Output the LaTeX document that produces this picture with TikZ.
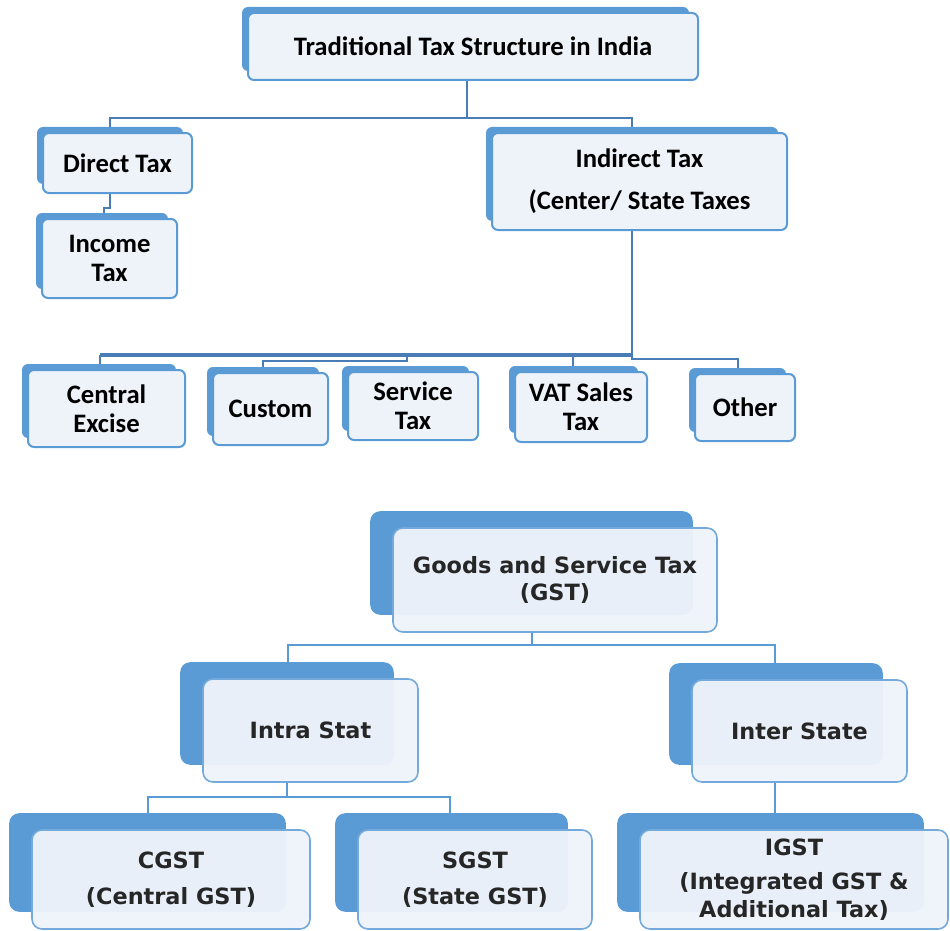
\documentclass[tikz,border=0pt]{standalone}
\usepackage{fontspec}
\setmainfont{Carlito}
\newfontfamily\gstfont{DejaVu Sans}
\usetikzlibrary{backgrounds}
\definecolor{boxblue}{HTML}{5B9BD5}
\definecolor{boxfill}{HTML}{EEF3FA}
\definecolor{linkblue}{HTML}{4A7DB5}

\begin{document}
\begin{tikzpicture}[x=0.75pt,y=0.75pt,yscale=-1,xscale=1,
    boxw/.style={minimum width=#1*0.75pt},
    boxh/.style={minimum height=#1*0.75pt},
    oldbox/.style={draw=boxblue, line width=1.5pt, fill=boxfill, rounded corners=4.5pt, inner sep=0pt, align=center, font=\fontsize{20}{21.5}\selectfont\bfseries},
    oldback/.style={fill=boxblue, rounded corners=4.5pt},
    gstbox/.style={draw=boxblue!85, line width=1.2pt, fill=boxfill, fill opacity=0.96, text opacity=1, rounded corners=7.5pt, inner sep=0pt, align=center, text=black!85, font=\gstfont\fontsize{16.8}{20.5}\selectfont\bfseries},
    gstback/.style={fill=boxblue, rounded corners=7.5pt},
    oldlink/.style={draw=linkblue, line width=1.5pt},
    gstlink/.style={draw=boxblue, line width=1.5pt}]
        \useasboundingbox (0,0) rectangle (950,931);

        % traditional structure
        \node[oldbox, boxw=450, boxh=67] (trad) at (473,46.5) {Traditional Tax Structure in India};
        \node[oldbox, boxw=149, boxh=60] (direct) at (117.5,163) {Direct Tax};
        \node[oldbox, boxw=135, boxh=79] (income) at (109.5,258.5) {Income\\Tax};
        \node[oldbox, boxw=295, boxh=97] (indirect) at (639.5,181.5) {Indirect Tax\\[10pt](Center/ State Taxes};
        \node[oldbox, boxw=157, boxh=77] (central) at (106.5,408.5) {Central\\Excise};
        \node[oldbox, boxw=115, boxh=72] (custom) at (270.5,409) {Custom};
        \node[oldbox, boxw=130, boxh=68] (service) at (413,406) {Service\\Tax};
        \node[oldbox, boxw=132, boxh=70] (vat) at (581,407) {VAT Sales\\Tax};
        \node[oldbox, boxw=100, boxh=67] (other) at (745,407.5) {Other};

        % gst structure
        \node[gstbox, boxw=324, boxh=104] (gst) at (555,580) {Goods and Service Tax\\(GST)};
        \node[gstbox, boxw=215, boxh=103] (intra) at (310.5,730.5) {Intra Stat};
        \node[gstbox, boxw=215, boxh=102] (inter) at (799.5,731) {Inter State};
        \node[gstbox, boxw=278, boxh=99] (cgst) at (171,879.5) {CGST\\[7pt](Central GST)};
        \node[gstbox, boxw=234, boxh=99] (sgst) at (475,879.5) {SGST\\[7pt](State GST)};
        \node[gstbox, boxw=308, boxh=99] (igst) at (794,879.5) {IGST\\[5pt](Integrated GST \&\\Additional Tax)};

        \begin{scope}[on background layer]
        \draw[oldlink] (trad.south -| 467,0) -- (467,118);
        \draw[oldlink] (direct.north -| 110,0) |- (632,118) -- (indirect.north -| 632,0);
        \draw[oldlink] (direct.south -| 110,0) -- (110,208) -| (income.north -| 104,0);
        \draw[oldlink] (indirect.south -| 632,0) -- (632,355);
        \draw[oldlink] (central.north -| 100,0) -- (100,355);
        \draw[oldlink, line width=2.5pt] (100,355) -- (632,355);
        \draw[oldlink] (custom.north -| 263,0) |- (407,361) -- (407,355);
        \draw[oldlink] (vat.north -| 573,0) -- (573,355);
        \draw[oldlink] (632,355) |- (738,359) -- (other.north -| 738,0);

        \draw[gstlink] (gst.south -| 532,0) -- (532,645);
        \draw[gstlink] (intra.north -| 288,0) |- (775,645) -- (inter.north -| 775,0);
        \draw[gstlink] (intra.south -| 287,0) -- (287,797);
        \draw[gstlink] (cgst.north -| 148,0) |- (450,797) -- (sgst.north -| 450,0);
        \draw[gstlink] (inter.south -| 775,0) -- (igst.north -| 775,0);

        \foreach \n in {trad,direct,income,indirect,central,custom,service,vat,other}
            \fill[oldback] ([shift={(-5,-5)}]\n.north west) rectangle ([shift={(-10,-10)}]\n.south east);
        \foreach \n in {gst,intra,inter,cgst,sgst,igst}
            \fill[gstback] ([shift={(-22,-16)}]\n.north west) rectangle ([shift={(-25,-18)}]\n.south east);
        \end{scope}
    \end{tikzpicture}
\end{document}
